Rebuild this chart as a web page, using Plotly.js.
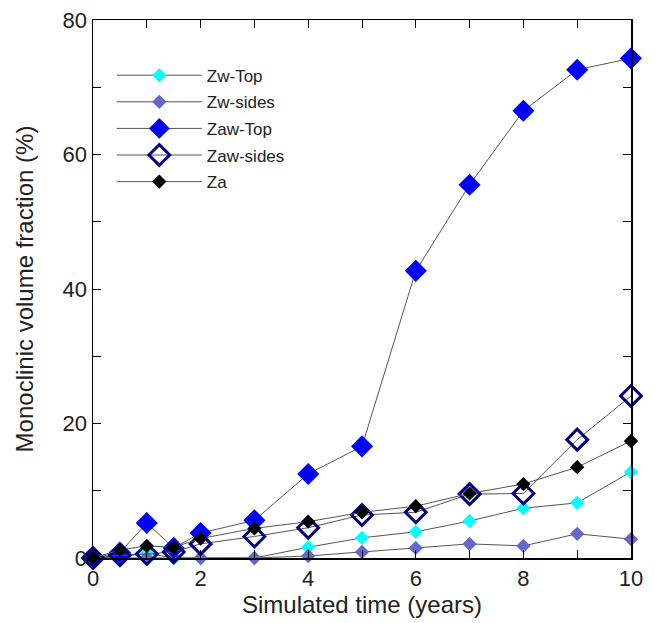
<!DOCTYPE html>
<html>
<head>
<meta charset="utf-8">
<script src="https://cdn.plot.ly/plotly-3.0.1.min.js"></script>
<style>html,body{margin:0;padding:0;background:#fff}#chart{width:655px;height:623px}</style>
</head>
<body>
<div id="chart"></div>
<script>
const years = [0, 0.5, 1, 1.5, 2, 3, 4, 5, 6, 7, 8, 9, 10];
const zwTop   = [0, 0.2, 0.7, 0, 0, 0, 1.6, 3.0, 3.9, 5.5, 7.4, 8.2, 12.8];
const zwSides = [0, 0, 0, 0, 0, 0, 0.3, 0.9, 1.5, 2.1, 1.8, 3.6, 2.8];
const zawTop  = [0, 0.8, 5.2, 1.5, 3.7, 5.6, 12.5, 16.6, 42.7, 55.5, 66.5, 72.6, 74.3];
const zawSides= [0, 0.4, 0.6, 0.9, 2.1, 3.2, 4.5, 6.4, 6.8, 9.5, 9.6, 17.6, 24.1];
const za      = [0, 1.2, 1.8, 1.6, 2.9, 4.4, 5.4, 6.8, 7.7, 9.6, 11.0, 13.5, 17.4];

const seriesNames = ["Zw-Top", "Zw-sides", "Zaw-Top", "Zaw-sides", "Za"];
const seriesData = [zwTop, zwSides, zawTop, zawSides, za];
const markerStyles = [
  {symbol: "diamond", color: "#00ffff", size: 11},
  {symbol: "diamond", color: "#6666cc", size: 11},
  {symbol: "diamond", color: "#0000ff", size: 17},
  {symbol: "diamond-open", color: "#000080", size: 16, line: {width: 3, color: "#000080"}},
  {symbol: "diamond", color: "#000000", size: 11}
];

const traces = seriesNames.map((n, i) => ({
  x: years, y: seriesData[i], name: n, type: "scatter", mode: "lines+markers",
  legendgroup: n,
  cliponaxis: false,
  line: {color: "#555555", width: 1},
  marker: Object.assign({}, markerStyles[i])
}));

const axisCommon = {
  showline: true, mirror: "ticks", linecolor: "#000", linewidth: 1.5,
  ticks: "inside", ticklen: 8, tickcolor: "#000", tickwidth: 1,
  showgrid: false, zeroline: false,
  tickfont: {family: "Liberation Sans, Arial", size: 22, color: "#222"}
};

const layout = {
  width: 655, height: 623,
  margin: {l: 93, r: 24, t: 20, b: 65},
  paper_bgcolor: "#fff", plot_bgcolor: "#fff",
  font: {family: "Liberation Sans, Arial", color: "#222"},
  xaxis: Object.assign({}, axisCommon, {
    range: [0, 10], dtick: 2, tick0: 0,
    minor: {dtick: 1, ticks: "inside", ticklen: 8, tickcolor: "#000"},
    title: {text: "Simulated time (years)", font: {size: 24, color: "#222"}, standoff: 0}
  }),
  yaxis: Object.assign({}, axisCommon, {
    range: [0, 80], dtick: 20, tick0: 0,
    minor: {dtick: 10, ticks: "inside", ticklen: 8, tickcolor: "#000"},
    title: {text: "Monoclinic volume fraction (%)", font: {size: 24, color: "#222"}, standoff: 22}
  }),
  showlegend: true,
  legend: {
    x: 0.035, y: 0.93, xanchor: "left", yanchor: "top",
    bgcolor: "rgba(0,0,0,0)", borderwidth: 0,
    font: {family: "Liberation Sans, Arial", size: 17, color: "#222"},
    itemwidth: 85, tracegroupgap: 1.5, traceorder: "grouped"
  }
};

Plotly.newPlot("chart", traces, layout, {displayModeBar: false, staticPlot: true});
</script>
</body>
</html>
